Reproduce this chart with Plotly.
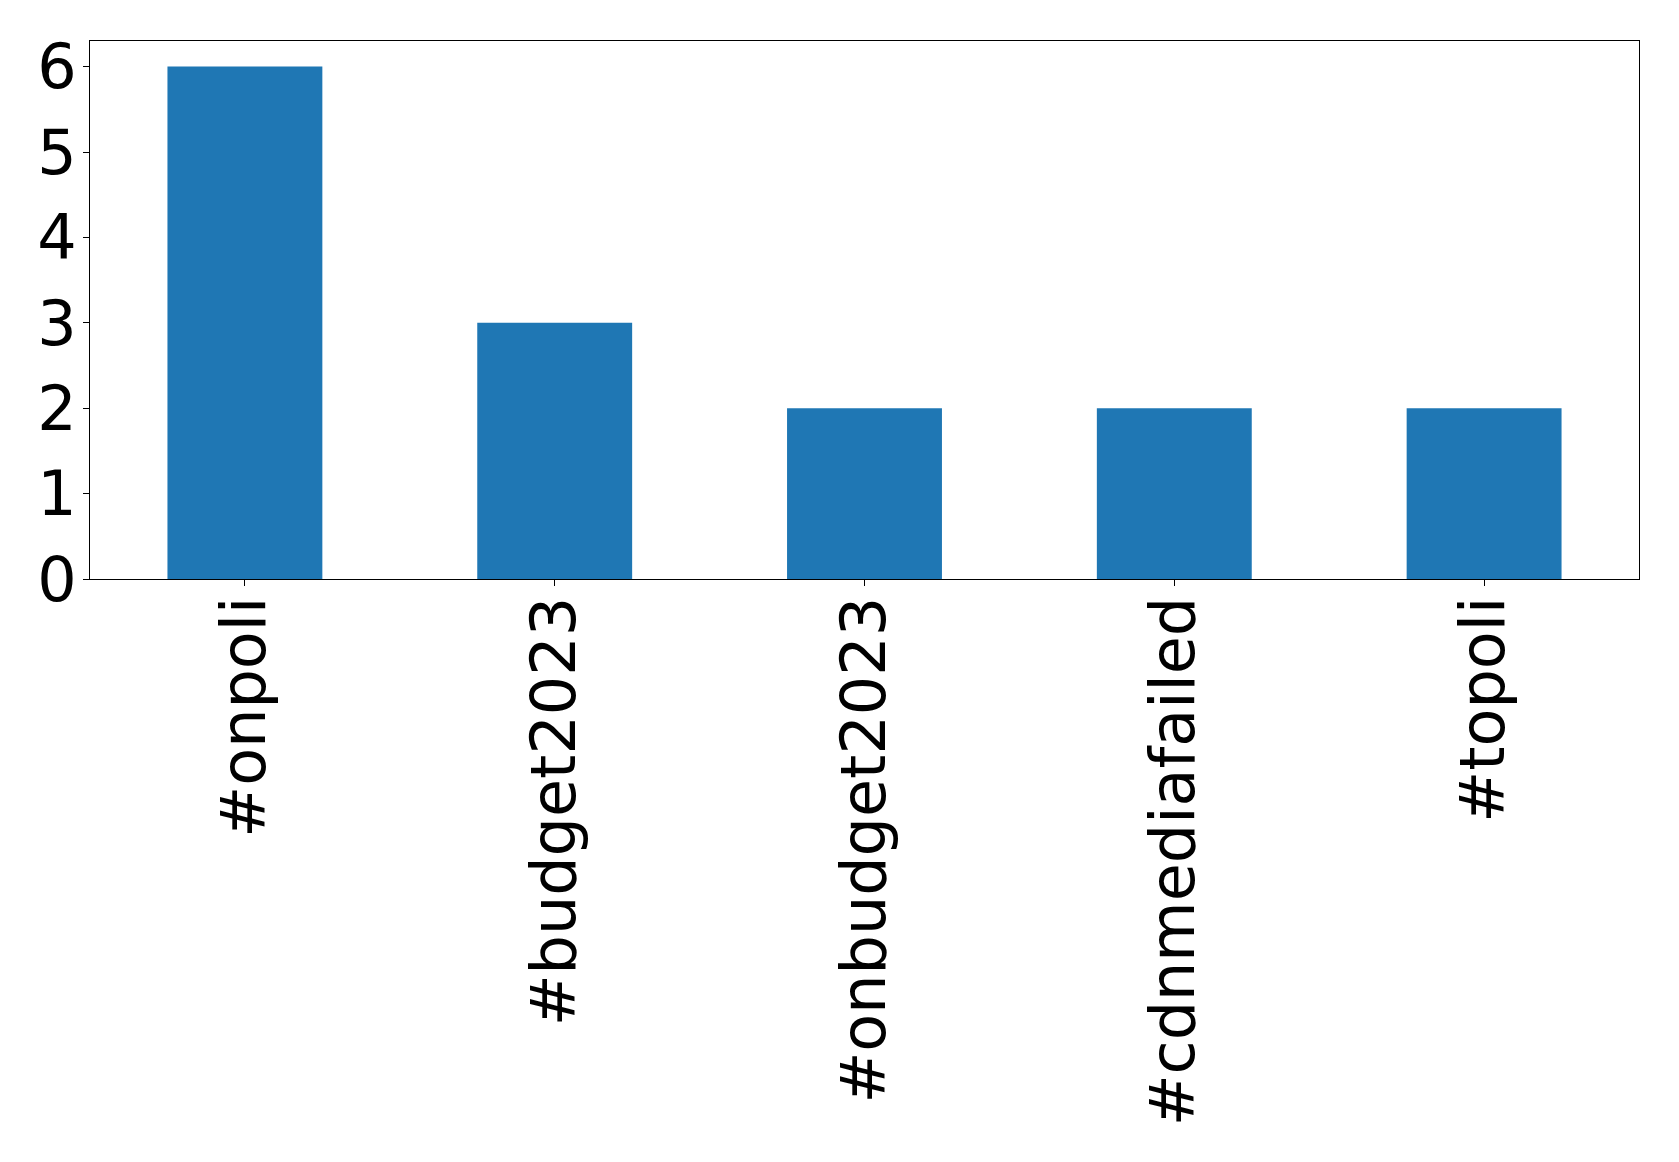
import plotly.graph_objects as go

categories = ["#onpoli", "#budget2023", "#onbudget2023", "#cdnmediafailed", "#topoli"]
counts = [6, 3, 2, 2, 2]
y_ticks = [0, 1, 2, 3, 4, 5, 6]

fig = go.Figure(go.Bar(x=categories, y=counts, marker=dict(color="#1f77b4", line=dict(width=0)), width=0.5))

fig.update_layout(
    width=1671, height=1154,
    margin=dict(l=82, r=40, t=33, b=583, autoexpand=False),
    paper_bgcolor="white", plot_bgcolor="white",
    font=dict(family="DejaVu Sans", size=62, color="black"),
    showlegend=False,
)
fig.update_xaxes(
    type="category", range=[-0.5, 4.5], tickangle=-90,
    showline=True, linecolor="black", linewidth=1, mirror=True,
    ticks="outside", ticklen=6, tickcolor="black", tickwidth=1,
    showgrid=False, tickfont=dict(size=62), ticklabelstandoff=-14,
)
fig.update_yaxes(
    range=[0, 6.3], tickvals=y_ticks, ticktext=[str(v) for v in y_ticks],
    showline=True, linecolor="black", linewidth=1, mirror=True,
    ticks="outside", ticklen=6, tickcolor="black", tickwidth=1,
    showgrid=False, zeroline=False, tickfont=dict(size=62), ticklabelstandoff=-6,
)
fig.write_html("out.html")
